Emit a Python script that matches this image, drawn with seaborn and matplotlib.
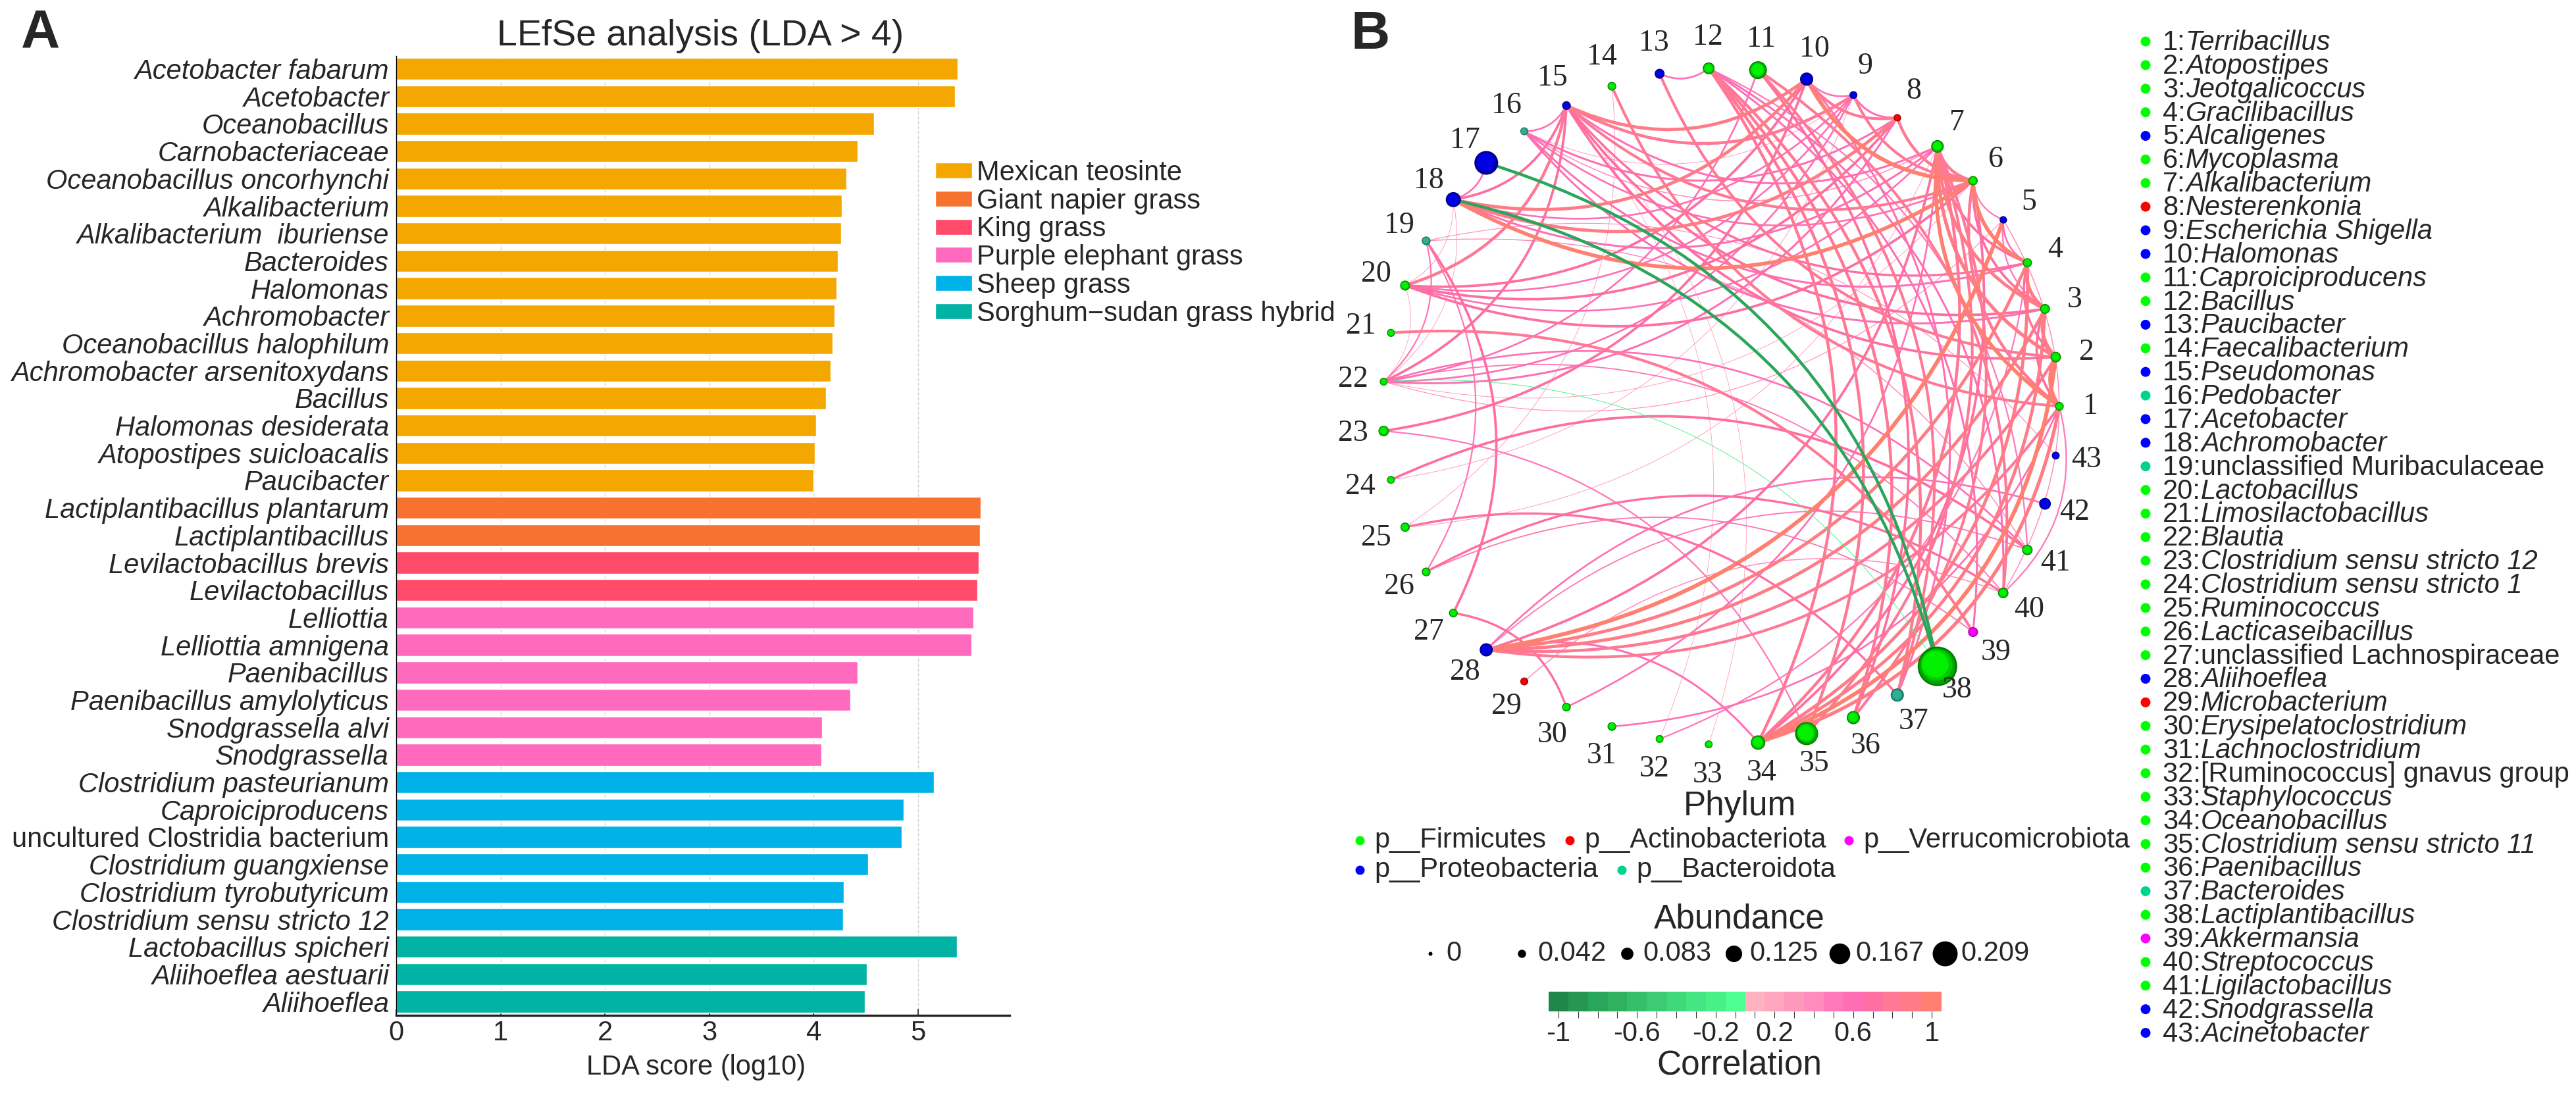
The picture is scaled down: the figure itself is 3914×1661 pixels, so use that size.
import numpy as np
import pandas as pd
import matplotlib
matplotlib.use("Agg")
import matplotlib.pyplot as plt
from matplotlib.colors import ListedColormap, to_rgb
from matplotlib.patches import PathPatch
from matplotlib.path import Path
import seaborn as sns

W, H = 3914, 1661

# ---------- Panel A data ----------
species = ["Acetobacter fabarum", "Acetobacter", "Oceanobacillus", "Carnobacteriaceae",
           "Oceanobacillus oncorhynchi", "Alkalibacterium", "Alkalibacterium  iburiense",
           "Bacteroides", "Halomonas", "Achromobacter", "Oceanobacillus halophilum",
           "Achromobacter arsenitoxydans", "Bacillus", "Halomonas desiderata",
           "Atopostipes suicloacalis", "Paucibacter",
           "Lactiplantibacillus plantarum", "Lactiplantibacillus",
           "Levilactobacillus brevis", "Levilactobacillus",
           "Lelliottia", "Lelliottia amnigena", "Paenibacillus", "Paenibacillus amylolyticus",
           "Snodgrassella alvi", "Snodgrassella",
           "Clostridium pasteurianum", "Caproiciproducens", "uncultured Clostridia bacterium",
           "Clostridium guangxiense", "Clostridium tyrobutyricum", "Clostridium sensu stricto 12",
           "Lactobacillus spicheri", "Aliihoeflea aestuarii", "Aliihoeflea"]
lda_scores = [5.38, 5.35, 4.58, 4.42, 4.31, 4.27, 4.26, 4.23, 4.22, 4.20, 4.18, 4.16, 4.12,
              4.02, 4.01, 4.00, 5.60, 5.59, 5.58, 5.57, 5.53, 5.51, 4.42, 4.35, 4.08, 4.07,
              5.15, 4.86, 4.84, 4.52, 4.29, 4.28, 5.37, 4.51, 4.49]
group_names = ["Mexican teosinte", "Giant napier grass", "King grass",
               "Purple elephant grass", "Sheep grass", "Sorghum\u2212sudan grass hybrid"]
group_counts = [16, 2, 2, 6, 6, 3]
group_colors = ["#F4A700", "#F7712F", "#FF4A6A", "#FF69BE", "#00B2E8", "#00B3A4"]

# ---------- Panel B data ----------
taxa = ["Terribacillus", "Atopostipes", "Jeotgalicoccus", "Gracilibacillus", "Alcaligenes",
        "Mycoplasma", "Alkalibacterium", "Nesterenkonia", "Escherichia Shigella", "Halomonas",
        "Caproiciproducens", "Bacillus", "Paucibacter", "Faecalibacterium", "Pseudomonas",
        "Pedobacter", "Acetobacter", "Achromobacter", "unclassified Muribaculaceae",
        "Lactobacillus", "Limosilactobacillus", "Blautia", "Clostridium sensu stricto 12",
        "Clostridium sensu stricto 1", "Ruminococcus", "Lacticaseibacillus",
        "unclassified Lachnospiraceae", "Aliihoeflea", "Microbacterium", "Erysipelatoclostridium",
        "Lachnoclostridium", "[Ruminococcus] gnavus group", "Staphylococcus", "Oceanobacillus",
        "Clostridium sensu stricto 11", "Paenibacillus", "Bacteroides", "Lactiplantibacillus",
        "Akkermansia", "Streptococcus", "Ligilactobacillus", "Snodgrassella", "Acinetobacter"]
upright_taxa = ["unclassified Muribaculaceae", "unclassified Lachnospiraceae",
                "[Ruminococcus] gnavus group"]
phylum_of = list("FFFFPFFAPPFFPFPBPPBFFFFFFFFPAFFFFFFFBFVFFPP")
phylum_keys = ["F", "A", "V", "P", "B"]
phylum_names = {"F": "p__Firmicutes", "A": "p__Actinobacteriota", "V": "p__Verrucomicrobiota",
                "P": "p__Proteobacteria", "B": "p__Bacteroidota"}
phylum_bright = {"F": "#00FF00", "A": "#FF0000", "V": "#FF00FF", "P": "#0000FF", "B": "#00D48A"}
abundance = [.013, .025, .021, .017, .004, .017, .038, .004, .008, .042, .071, .033, .021, .013,
             .013, .008, .109, .054, .013, .021, .008, .008, .025, .008, .017, .013, .013, .042,
             .008, .013, .013, .008, .008, .050, .105, .042, .042, .209, .021, .025, .025, .033,
             .008]
abundance_legend = [0, .042, .083, .125, .167, .209]
abundance_legend_text = ["0", "0.042", "0.083", "0.125", "0.167", "0.209"]

edges = [
    (1, 2, .95), (2, 3, .9), (3, 4, .9), (1, 3, .7), (2, 4, .65), (1, 7, .95), (2, 7, .9),
    (3, 7, .85), (4, 7, .7), (1, 6, .8), (3, 6, .7), (4, 6, .95), (5, 6, .5), (4, 5, .55),
    (3, 5, .5), (5, 40, .4), (5, 28, 1.0), (6, 7, .8), (6, 8, .8), (6, 9, .75), (6, 10, 1.0),
    (7, 15, .6), (7, 16, .4), (6, 15, .75), (6, 16, .55), (6, 18, .95), (6, 20, .7), (7, 20, .55),
    (7, 18, .6), (8, 9, .6), (8, 10, .75), (9, 10, .55), (8, 16, .6), (9, 16, .3), (8, 18, .85),
    (9, 18, .55), (10, 18, .85), (10, 15, .85), (9, 15, .8), (8, 20, .7), (9, 20, .55),
    (10, 20, .7), (8, 22, .6), (9, 22, .55), (10, 23, .7), (11, 22, .55), (9, 24, .3), (7, 25, .3),
    (1, 14, .75), (2, 13, .75), (2, 15, .7), (3, 15, .7), (3, 16, .6), (4, 15, .65), (4, 16, .6),
    (12, 13, .55), (12, 34, .8), (12, 35, .8), (12, 36, .8), (12, 37, .8), (11, 37, .75),
    (11, 36, .7), (10, 37, .6), (7, 36, .75), (7, 35, .75), (7, 34, .8), (6, 34, .7), (7, 30, .55),
    (12, 39, .6), (12, 40, .6), (12, 41, .5), (11, 40, .75), (1, 40, .5), (1, 31, .55),
    (4, 32, .5), (15, 33, .2), (15, 32, .2), (14, 25, .3), (25, 37, .65), (24, 41, .7),
    (23, 35, .5), (26, 40, .65), (26, 39, .45), (21, 39, .75), (19, 27, .7), (19, 26, .5),
    (27, 30, .65), (28, 34, .6), (29, 40, .4), (15, 20, .8), (15, 18, .7), (17, 18, .55),
    (15, 16, .55), (15, 22, .7), (18, 22, .25), (18, 20, .3), (19, 22, .5), (20, 22, .2),
    (22, 40, .45), (22, 41, .55), (5, 22, .35), (6, 22, .3), (19, 43, .35), (19, 41, .4),
    (7, 28, .7), (28, 41, .45), (4, 28, .85), (3, 28, .85), (2, 28, .8), (1, 28, .75),
    (28, 42, .55), (1, 34, .9), (2, 34, 1.0), (3, 34, .85), (4, 34, .85),
    (17, 38, -.8), (18, 38, -.8), (22, 38, -.2),
]

# ---------- Theme ----------
sns.set_theme(style="white")
plt.rcParams["font.family"] = ["Liberation Sans", "DejaVu Sans"]
plt.rcParams["axes.linewidth"] = 1.0


def px_rect(left, top, right, bottom):
    return [left / W, 1 - bottom / H, (right - left) / W, (bottom - top) / H]


def area(d_px):
    return (np.asarray(d_px) * 0.72) ** 2


fig = plt.figure(figsize=(W / 100, H / 100), dpi=100, facecolor="white")

# ---------- Panel A ----------
groups = np.repeat(group_names, group_counts)
df = pd.DataFrame({"species": species, "lda": lda_scores, "group": groups})
ax = fig.add_axes(px_rect(602, 85, 1534, 1543))
sns.barplot(data=df, y="species", x="lda", hue="group", order=species, hue_order=group_names,
            palette=group_colors, dodge=False, saturation=1, width=0.8, ax=ax)
ax.set_xlim(0, 5.876)
ax.set_ylim(34.5, -0.47)
ax.set_axisbelow(True)
ax.grid(axis="x", ls="--", color="#d4d4d4", lw=1.0)
ax.grid(axis="y", visible=False)
ax.set_ylabel("")
ax.set_xlabel("LDA score (log10)", fontsize=30, labelpad=9)
ax.xaxis.label.set_x((1058 - 602) / (1534 - 602))
ax.set_xticks(range(6))
ax.tick_params(axis="x", direction="in", length=7, width=1.2, labelsize=30, pad=5, bottom=True, color="#222222")
ax.tick_params(axis="y", direction="in", length=5, width=1.2, labelsize=30, pad=8, left=True, color="#222222")
for lab in ax.get_yticklabels():
    lab.set_fontstyle("normal" if lab.get_text().startswith("uncultured") else "italic")
sns.despine(ax=ax)
ax.spines["left"].set_color("black")
ax.spines["left"].set_linewidth(1.0)
ax.spines["bottom"].set_color("#222222")
ax.spines["bottom"].set_linewidth(2.4)
handles, labels = ax.get_legend_handles_labels()
ax.legend(handles, labels, loc="upper left", bbox_to_anchor=(1421 / W, 1 - 243 / H),
          bbox_transform=fig.transFigure, frameon=False, fontsize=30, borderpad=0, borderaxespad=0,
          handlelength=1.34, handleheight=0.5, handletextpad=0.18, labelspacing=0.065)

# ---------- Overlay in pixel coordinates ----------
ov = fig.add_axes([0, 0, 1, 1], facecolor="none")
ov.set_xlim(0, W)
ov.set_ylim(H, 0)
ov.set_axis_off()

ov.text(62, 50, "A", fontsize=59, fontweight="bold", ha="center", va="center")
ov.text(2082, 53, "B", fontsize=59, fontweight="bold", ha="center", va="center")
ov.text(1064, 55, "LEfSe analysis (LDA > 4)", fontsize=40, ha="center", va="center")

# ---------- Network ----------
cx, cy, radius = 2615, 617.5, 514
angles = 2 * np.pi * np.arange(len(taxa)) / len(taxa)
node_x = cx + radius * np.cos(angles)
node_y = cy - radius * np.sin(angles)

neg_colors = ["#20874B", "#279652", "#2AA65A", "#30B160", "#36BF69",
              "#3CCB72", "#40D97A", "#44E582", "#47F188", "#4CFF90"]
pos_colors = ["#FFB3C1", "#FFA6BE", "#FF99BB", "#FF8CBC", "#FF78B8",
              "#FF6EB4", "#FF6EA0", "#FF7896", "#FF7C86", "#FF8070"]
bar_colors = neg_colors + pos_colors


def edge_color(c):
    if c > 0:
        return pos_colors[int(np.ceil(round(c * 10, 6))) - 1]
    return neg_colors[int(round((c + 1) * 10))]


curve = 0.3
for a, b, c in sorted(edges, key=lambda e: abs(e[2])):
    x0, y0, x1, y1 = node_x[a - 1], node_y[a - 1], node_x[b - 1], node_y[b - 1]
    mx, my = (x0 + x1) / 2, (y0 + y1) / 2
    ctrl = (mx + curve * (y1 - y0), my - curve * (x1 - x0))
    width_px = max(0.9, 7.5 * abs(c) - 1.5)
    ov.add_patch(PathPatch(Path([(x0, y0), ctrl, (x1, y1)], [Path.MOVETO, Path.CURVE3, Path.CURVE3]),
                           fc="none", ec=edge_color(c), lw=width_px * 0.72,
                           zorder=2 if c < 0 else 1, capstyle="round"))


def node_diam(v):
    return 10 + 50 * np.asarray(v) / 0.209


nodes = pd.DataFrame({"x": node_x, "y": node_y, "phylum": phylum_of, "abundance": abundance})
dark = {"F": "#007A00", "A": "#8A0000", "V": "#A000A0", "P": "#00007A", "B": "#0E6A54"}
core = {"F": "#00F000", "A": "#FF0000", "V": "#FF00FF", "P": "#0000E6", "B": "#2FB090"}
sns.scatterplot(data=nodes, x="x", y="y", hue="phylum", palette=dark, size="abundance",
                sizes={v: float(area(node_diam(v))) for v in set(abundance)},
                linewidth=0, legend=False, zorder=3, ax=ov)
ov.set_xlabel("")
ov.set_ylabel("")
ov.set_xlim(0, W)
ov.set_ylim(H, 0)
ov.set_axis_off()
for f in np.linspace(0.92, 0.3, 6):
    for x, y, p, v in zip(node_x, node_y, phylum_of, abundance):
        d = float(node_diam(v))
        mix = min(1.0, 0.35 + (0.92 - f) / 0.35)
        col = (1 - mix) * np.array(to_rgb(dark[p])) + mix * np.array(to_rgb(core[p]))
        ov.scatter(x - (1 - f) * d * 0.18, y - (1 - f) * d * 0.18, s=area(d * f), color=[col],
                   linewidth=0, zorder=4)
for i, (x, y, t) in enumerate(zip(node_x, node_y, angles), start=1):
    ov.text(cx + (radius + 47) * np.cos(t), cy - (radius + 47) * np.sin(t), str(i),
            family=["Liberation Serif"], fontsize=33, ha="center", va="center", zorder=5)

# ---------- Right-hand taxon list ----------
list_y = 65 + 35.87 * np.arange(len(taxa))
ov.scatter(np.full(len(taxa), 3260), list_y - 2, s=area(15),
           c=[phylum_bright[p] for p in phylum_of], linewidth=0)
for i, (name, y) in enumerate(zip(taxa, list_y), start=1):
    if name in upright_taxa:
        ov.text(3286, y, f"{i}:{name}", fontsize=30, ha="left", va="center")
    else:
        prefix = ov.text(3286, y, f"{i}:", fontsize=30, ha="left", va="center")
        ov.annotate(name, xy=(1, 0), xycoords=prefix, fontsize=30, style="italic",
                    ha="left", va="bottom")

# ---------- Phylum legend ----------
ov.text(2643, 1226, "Phylum", fontsize=37, ha="center", va="center")
phylum_layout_x = {"F": 2066, "A": 2385, "V": 2809, "P": 2066, "B": 2464}
phylum_layout_y = {"F": 1277, "A": 1277, "V": 1277, "P": 1322, "B": 1322}
for k in phylum_keys:
    ov.scatter(phylum_layout_x[k], phylum_layout_y[k], s=area(14), color=phylum_bright[k], linewidth=0)
    ov.text(phylum_layout_x[k] + 22, phylum_layout_y[k], phylum_names[k], fontsize=30,
            ha="left", va="center")

# ---------- Abundance legend ----------
ov.text(2643, 1397, "Abundance", fontsize=37, ha="center", va="center")
legend_dot_x = [2173, 2312, 2472, 2634, 2795, 2955]
for x, v, s in zip(legend_dot_x, abundance_legend, abundance_legend_text):
    d = 6 + 32 * v / 0.209
    ov.scatter(x, 1449, s=area(d), color="black", linewidth=0)
    ov.text(x + 24, 1449, s, fontsize=30, ha="left", va="center")

# ---------- Correlation colour bar ----------
cax = fig.add_axes(px_rect(2353, 1507, 2950, 1537))
bins = np.arange(len(bar_colors))[None, :]
sns.heatmap(bins, cmap=ListedColormap(bar_colors), cbar=False, xticklabels=False, yticklabels=False,
            vmin=-0.5, vmax=len(bar_colors) - 0.5, ax=cax)
tick_text = {0: "-1", 4: "-0.6", 8: "-0.2", 11: "0.2", 15: "0.6", 19: "1"}
cax.set_xticks(np.arange(len(bar_colors)) + 0.5)
cax.set_xticklabels([tick_text.get(i, "") for i in range(len(bar_colors))], rotation=0)
cax.tick_params(axis="x", bottom=True, length=7, width=0.8, color="#333333", labelsize=30, pad=3)
ov.text(2643, 1619, "Correlation", fontsize=37, ha="center", va="center")

fig.savefig("out.png", dpi=100, facecolor="white")
